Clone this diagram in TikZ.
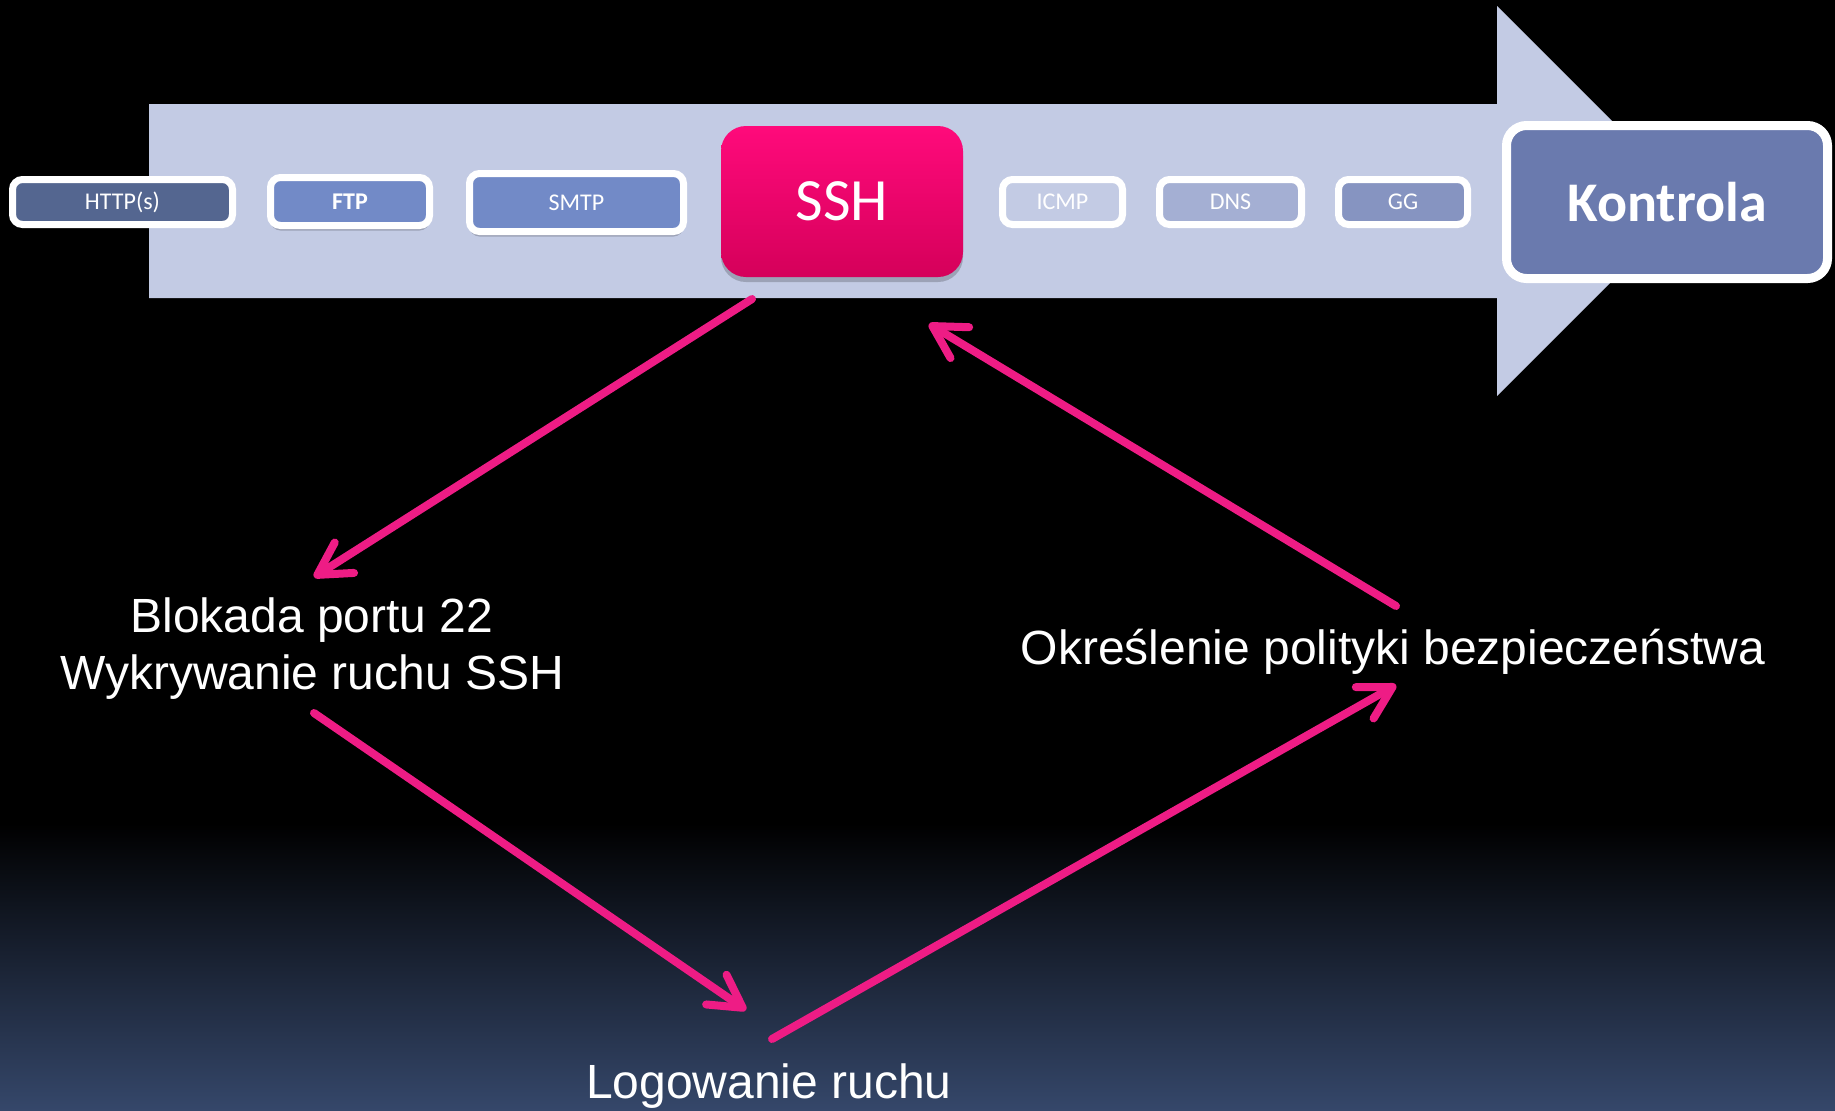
\documentclass[tikz,border=0pt]{standalone}
\usepackage{fontspec}
\setmainfont{Liberation Sans}
\newfontfamily\boxfont{Carlito}
\usetikzlibrary{arrows.meta,shadows}
\definecolor{arrowfill}{HTML}{C3CBE4}
\definecolor{httpc}{HTML}{546690}
\definecolor{ftpc}{HTML}{728AC7}
\definecolor{icmpc}{HTML}{C3CBE4}
\definecolor{dnsc}{HTML}{A4AFD3}
\definecolor{ggc}{HTML}{8694C1}
\definecolor{kontc}{HTML}{6A7AAE}
\definecolor{pinkc}{HTML}{EE1C85}
\definecolor{sshtop}{HTML}{FF0A7B}
\definecolor{sshbot}{HTML}{D5005A}
\definecolor{bgbot}{HTML}{35476A}
\tikzset{
  proto/.style={draw=white, line width=3.5pt, rounded corners=5pt, inner sep=0pt,
    text=white, font=\boxfont\fontsize{12}{14}\selectfont},
  boxshadow/.style={drop shadow={shadow xshift=0pt, shadow yshift=-2.5pt, opacity=0.2, fill=black}},
  caption/.style={text=white, font=\fontsize{24}{28.5}\selectfont, inner sep=0pt},
  pinkarrow/.style={draw=pinkc, line width=4pt, line cap=round,
    -{Straight Barb[length=16pt,width=18pt,round]}}
}
\begin{document}
\begin{tikzpicture}[x=0.5pt,y=-0.5pt]
\useasboundingbox (0,0) rectangle (1835,1110);
\fill[black] (0,0) rectangle (1835,1110);
\shade[top color=black, bottom color=bgbot] (0,823) rectangle (1835,1110);

% pink arrows (under the big arrow at their start)
\coordinate (a1s) at (752,299);
\coordinate (a1e) at (314,577);
\coordinate (a2s) at (314,713);
\coordinate (a2e) at (746,1010);
\coordinate (a3s) at (772,1039);
\coordinate (a3e) at (1396,685);
\coordinate (a4s) at (1396,606);
\coordinate (a4e) at (929,324);

% big arrow
\fill[arrowfill] (149,104) -- (1497,104) -- (1497,6) -- (1692,201) -- (1497,396)
  -- (1497,298) -- (149,298) -- cycle;

% protocol boxes
\node[proto, fill=httpc, minimum width=110pt, minimum height=22.5pt] (http) at (122.5,202) {HTTP(s)};
\node[proto, boxshadow, fill=ftpc, minimum width=79.5pt, minimum height=24pt, font=\boxfont\bfseries\fontsize{12}{14}\selectfont] (ftp) at (350,201.5) {FTP};
\node[proto, boxshadow, fill=ftpc, minimum width=107pt, minimum height=29pt] (smtp) at (576.5,202.5) {SMTP};
\node[boxshadow, rounded corners=12.5pt, top color=sshtop, bottom color=sshbot, minimum width=121pt, minimum height=75.5pt, inner sep=0pt, text=white, font=\boxfont\fontsize{30}{36}\selectfont] (ssh) at (842,201.5) {SSH};
\node[proto, fill=icmpc, minimum width=60pt, minimum height=22.5pt] (icmp) at (1062.5,202) {ICMP};
\node[proto, fill=dnsc, minimum width=71pt, minimum height=22.5pt] (dns) at (1230.5,202) {DNS};
\node[proto, fill=ggc, minimum width=64.5pt, minimum height=22.5pt] (gg) at (1403,202) {GG};
\node[proto, line width=4.5pt, rounded corners=10pt, fill=kontc, minimum width=160.5pt, minimum height=76.5pt, font=\boxfont\bfseries\fontsize{28}{34}\selectfont] (kontrola) at (1667,202) {Kontrola};

% captions
\node[caption, align=center] (blok) at (312,649) {Blokada portu 22\\Wykrywanie ruchu SSH};
\node[caption, anchor=base] (okr) at (1393,664) {Określenie polityki bezpieczeństwa};
\node[caption, anchor=base] (log) at (769,1098) {Logowanie ruchu};

% connectors
\draw[pinkarrow] (a1s) -- (a1e);
\draw[pinkarrow] (a2s) -- (a2e);
\draw[pinkarrow] (a3s) -- (a3e);
\draw[pinkarrow] (a4s) -- (a4e);
\end{tikzpicture}
\end{document}
